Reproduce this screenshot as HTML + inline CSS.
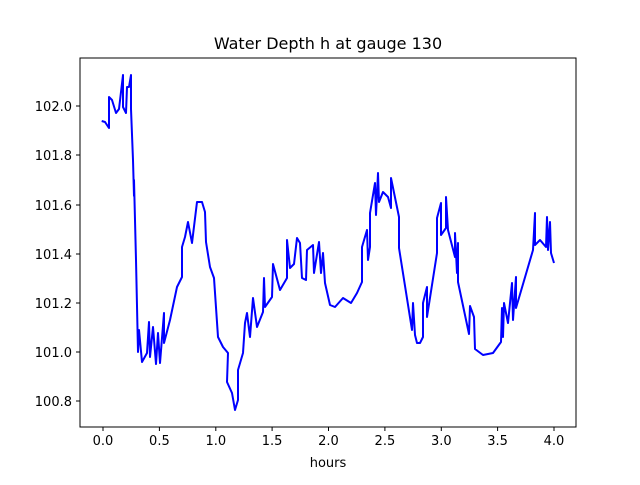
<!DOCTYPE html>
<html><head><style>body{margin:0;background:#fff}</style></head><body>
<svg width="640" height="480" xmlns="http://www.w3.org/2000/svg" font-family="DejaVu Sans, sans-serif">
<rect width="640" height="480" fill="#fff"/>
<text x="328" y="49" font-size="16" text-anchor="middle">Water Depth h at gauge 130</text>
<polyline fill="none" stroke="#0000ff" stroke-width="2" stroke-linejoin="round" points="101.7,121 105,122 109,128 109,97 112,100 116,113 119,109 123,75 123,107 126,113 127,87 129,87 131,75 131,109 133,160 134,196 134,180 136,260 138,352 139,330 142,362 147,353 149,322 150,357 153,327 156,364 158,333 160,363 164,313 164,343 170,320 177,287 182,277 182,247 185,237 188,222 192,243 197,202 202,202 205,212 206,242 210,267 214,278 218,337 223,347 228,353 227,382 232,393 235,410 238,400 238,370 243,353 245,323 247,313 250,337 253,298 257,327 263,312 264,278 265,307 272,297 273,264 280,290 287,278 287,240 290,268 294,264 297,238 300,243 302,278 306,280 307,250 313,245 314,273 319,242 321,273 323,253 325,283 330,305 335,307 343,298 351,303 357,293 362,282 362,247 367,230 368,260 370,247 370,213 375,183 376,215 378,173 379,202 383,192 388,197 391,208 391,178 399,217 399,248 412,330 413,303 415,335 417,343 420,343 423,337 423,303 427,287 427,317 437,253 437,218 441,203 441,235 446,228 446,197 448,230 455,257 455,233 457,273 458,243 458,282 469,334 470,306 474,317 475,349 483,355 493,353 501,342 502,308 503,337 504,303 508,323 512,283 513,320 516,277 516,308 533,250 535,213 535,245 540,240 546,247 547,217 548,250 550,222 551,253 554,263"/>
<rect x="80" y="58" width="496" height="369" fill="none" stroke="#000" stroke-width="1"/>
<g stroke="#000" stroke-width="1">
<line x1="103" y1="427" x2="103" y2="431"/><line x1="159.4" y1="427" x2="159.4" y2="431"/><line x1="215.8" y1="427" x2="215.8" y2="431"/><line x1="272.1" y1="427" x2="272.1" y2="431"/><line x1="328.5" y1="427" x2="328.5" y2="431"/><line x1="384.9" y1="427" x2="384.9" y2="431"/><line x1="441.3" y1="427" x2="441.3" y2="431"/><line x1="497.6" y1="427" x2="497.6" y2="431"/><line x1="554" y1="427" x2="554" y2="431"/>
<line x1="76" y1="401" x2="80" y2="401"/><line x1="76" y1="352" x2="80" y2="352"/><line x1="76" y1="303" x2="80" y2="303"/><line x1="76" y1="254" x2="80" y2="254"/><line x1="76" y1="205" x2="80" y2="205"/><line x1="76" y1="155" x2="80" y2="155"/><line x1="76" y1="106" x2="80" y2="106"/>
</g>
<g font-size="13" text-anchor="middle">
<text x="103" y="445">0.0</text><text x="159.4" y="445">0.5</text><text x="215.8" y="445">1.0</text><text x="272.1" y="445">1.5</text><text x="328.5" y="445">2.0</text><text x="384.9" y="445">2.5</text><text x="441.3" y="445">3.0</text><text x="497.6" y="445">3.5</text><text x="554" y="445">4.0</text>
<text x="328" y="467">hours</text>
</g>
<g font-size="13" text-anchor="end">
<text x="72" y="406">100.8</text><text x="72" y="357">101.0</text><text x="72" y="308">101.2</text><text x="72" y="259">101.4</text><text x="72" y="210">101.6</text><text x="72" y="160">101.8</text><text x="72" y="111">102.0</text>
</g>
</svg>
</body></html>
